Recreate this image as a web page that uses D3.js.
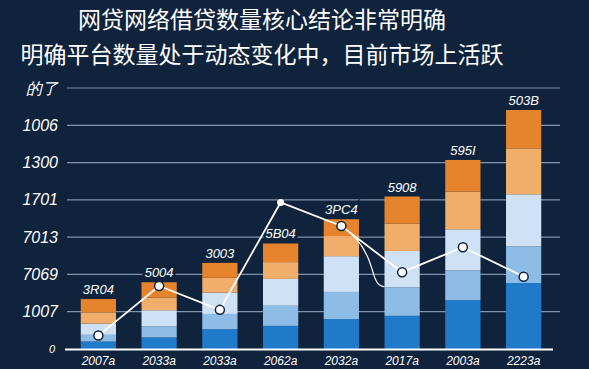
<!DOCTYPE html>
<meta charset="utf-8">
<style>
  body { margin: 0; background: #10233d; }
  svg { display: block; }
</style>
<svg width="589" height="369"></svg>
<script src="https://d3js.org/d3.v7.min.js"></script>
<script>

  var svg = d3.select("svg"),
      width = +svg.attr("width"),
      height = +svg.attr("height");

  var titleLines = ["网贷网络借贷数量核心结论非常明确",
                    "明确平台数量处于动态变化中，目前市场上活跃"];

  var years = ["2007a", "2033a", "2033a", "2062a", "2032a", "2017a", "2003a", "2223a"];
  var barLabels = ["3R04", "5004", "3003", "5B04", "3PC4", "5908", "595I", "503B"];

  // stacked segments, bottom to top
  var darkBlue    = [20, 31, 53, 62, 80, 89, 131, 177];
  var midBlue     = [18, 30, 41, 54, 73, 76, 80, 98];
  var paleBlue    = [30, 43, 57, 72, 96, 98, 110, 140];
  var lightOrange = [30, 34, 40, 45, 54, 73, 101, 123];
  var darkOrange  = [36, 41, 40, 50, 45, 73, 85, 103];

  var lineValues = [36, 169, 105, 393, 330, 206, 273, 194];
  // stray stroke that drops away from the fifth point
  var trailIndex  = [4, 4.27, 4.47, 4.55, 4.63, 4.71];
  var trailValues = [330, 298, 239, 185, 169, 167];

  var yTicks = [0, 100, 200, 300, 400, 500, 600, 700];
  var yTickLabels = ["0", "1007", "7069", "7013", "1701", "1300", "1006", "的了"];

  var keys = ["darkBlue", "midBlue", "paleBlue", "lightOrange", "darkOrange"];
  var colors = ["#1f7bc9", "#8dbde6", "#cfe1f4", "#f1ae6b", "#e5842d"];

  var rows = years.map(function(y, i) {
    return {year: y, darkBlue: darkBlue[i], midBlue: midBlue[i], paleBlue: paleBlue[i],
            lightOrange: lightOrange[i], darkOrange: darkOrange[i]};
  });

  var x = d3.scaleBand().domain(years.map(function(d, i) { return i; }))
      .range([68, 554]).paddingInner(0.42).paddingOuter(0.21);
  var y = d3.scaleLinear().domain([0, 700]).range([349, 88]);
  var xc = function(i) { return x(0) + x.step() * i + x.bandwidth() / 2; };

  // title
  svg.append("g").selectAll("text").data(titleLines).enter().append("text")
      .attr("x", 262)
      .attr("y", function(d, i) { return 28 + i * 35; })
      .attr("text-anchor", "middle")
      .attr("fill", "#fff")
      .style("font-family", "'Noto Sans CJK SC'")
      .style("font-size", "23px")
      .text(function(d) { return d; });

  // grid
  svg.append("g").selectAll("line").data(yTicks.slice(1)).enter().append("line")
      .attr("x1", 67).attr("x2", 560)
      .attr("y1", function(d) { return y(d); }).attr("y2", function(d) { return y(d); })
      .attr("stroke", "#8193aa").attr("stroke-width", 1.2);

  var yAxis = d3.axisLeft(y).tickValues(yTicks).tickSize(0).tickPadding(0)
      .tickFormat(function(d, i) { return yTickLabels[i]; });
  var ya = svg.append("g").attr("transform", "translate(58,0)").call(yAxis);
  ya.select(".domain").remove();
  ya.selectAll("text").attr("fill", "#fff")
      .style("font-family", "'Liberation Sans'")
      .style("font-style", "italic")
      .style("font-size", function(d) { return d === 0 ? "11px" : "16px"; })
      .attr("x", function(d) { return d === 0 ? -3 : 0; });

  // bars
  var series = d3.stack().keys(keys)(rows);
  svg.append("g").selectAll("g").data(series).enter().append("g")
      .attr("fill", function(d, i) { return colors[i]; })
    .selectAll("rect").data(function(d) { return d; }).enter().append("rect")
      .attr("x", function(d, i) { return x(i); })
      .attr("width", x.bandwidth())
      .attr("y", function(d) { return y(d[1]); })
      .attr("height", function(d) { return y(d[0]) - y(d[1]); });

  // baseline
  svg.append("line").attr("x1", 65).attr("x2", 553)
      .attr("y1", y(0) + 0.5).attr("y2", y(0) + 0.5)
      .attr("stroke", "#fff").attr("stroke-width", 2);

  // value labels
  var topSeries = series[series.length - 1];
  svg.append("g").selectAll("text").data(barLabels).enter().append("text")
      .attr("x", function(d, i) { return xc(i); })
      .attr("y", function(d, i) { return y(topSeries[i][1]) - 5; })
      .attr("text-anchor", "middle")
      .attr("fill", "#fff")
      .attr("stroke", "#10233d").attr("stroke-width", 5).attr("paint-order", "stroke")
      .style("font-family", "'Liberation Sans'")
      .style("font-style", "italic")
      .style("font-size", "13px")
      .text(function(d) { return d; });

  // x labels
  svg.append("g").selectAll("text").data(years).enter().append("text")
      .attr("x", function(d, i) { return xc(i); })
      .attr("y", 365)
      .attr("text-anchor", "middle")
      .attr("fill", "#fff")
      .style("font-family", "'Liberation Sans'")
      .style("font-style", "italic")
      .style("font-size", "12px")
      .text(function(d) { return d; });

  // line
  var line = d3.line()
      .x(function(d, i) { return xc(i); })
      .y(function(d) { return y(d); });
  svg.append("path").datum(lineValues)
      .attr("d", line)
      .attr("fill", "none").attr("stroke", "#fff").attr("stroke-width", 1.8);

  var trail = d3.line().curve(d3.curveBasis)
      .x(function(d) { return xc(d[0]); })
      .y(function(d) { return y(d[1]); });
  svg.append("path").datum(trailIndex.map(function(d, i) { return [d, trailValues[i]]; }))
      .attr("d", trail)
      .attr("fill", "none").attr("stroke", "#fff").attr("stroke-width", 1.2);

  svg.append("g").selectAll("circle").data(lineValues).enter().append("circle")
      .attr("cx", function(d, i) { return xc(i); })
      .attr("cy", function(d) { return y(d); })
      .attr("r", function(d, i) { return i === 3 ? 3.5 : 4.5; })
      .attr("fill", "#fff")
      .attr("stroke", function(d, i) { return i === 3 ? "none" : "#10233d"; })
      .attr("stroke-width", 1.5);

</script>
